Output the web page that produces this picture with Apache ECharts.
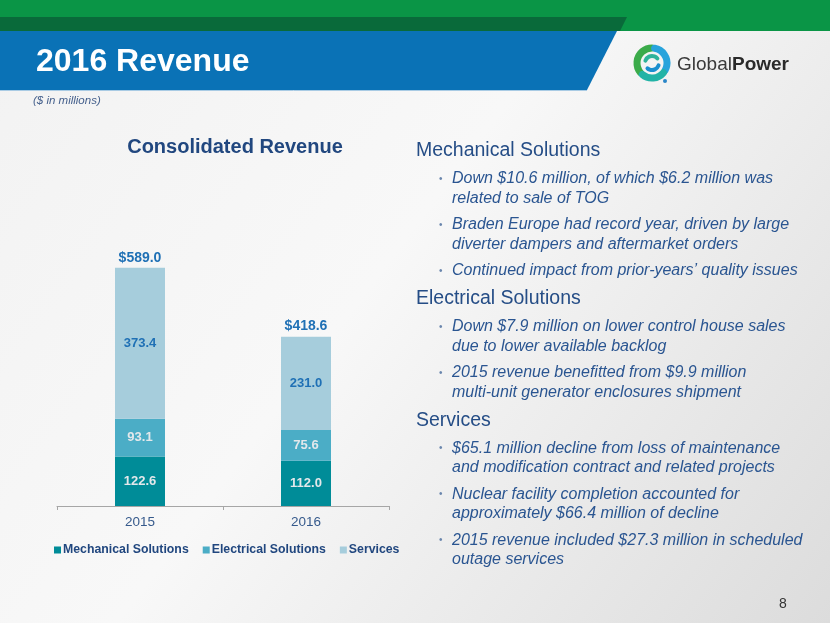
<!DOCTYPE html>
<html>
<head>
<meta charset="utf-8">
<script src="https://cdn.jsdelivr.net/npm/echarts@6/dist/echarts.min.js"></script>
<style>
  html, body { margin: 0; padding: 0; }
  #chart { width: 830px; height: 623px; }
</style>
</head>
<body>
<div id="chart"></div>
<script>
const categories = ['2015', '2016']
const mechanical = [122.6, 112.0]
const electrical = [93.1, 75.6]
const services = [373.4, 231.0]
const totals = [589.0, 418.6]
const seriesNames = ['Mechanical Solutions', 'Electrical Solutions', 'Services']

const notes = [
  { head: 'Mechanical Solutions', bullets: [
    ['Down $10.6 million, of which $6.2 million was', 'related to sale of TOG'],
    ['Braden Europe had record year, driven by large', 'diverter dampers and aftermarket orders'],
    ['Continued impact from prior-years\u2019 quality issues']
  ] },
  { head: 'Electrical Solutions', bullets: [
    ['Down $7.9 million on lower control house sales', 'due to lower available backlog'],
    ['2015 revenue benefitted from $9.9 million', 'multi-unit generator enclosures shipment']
  ] },
  { head: 'Services', bullets: [
    ['$65.1 million decline from loss of maintenance', 'and modification contract and related projects'],
    ['Nuclear facility completion accounted for', 'approximately $66.4 million of decline'],
    ['2015 revenue included $27.3 million in scheduled', 'outage services']
  ] }
]

const FONT = 'Liberation Sans, Arial, sans-serif'

function txt(text, x, y, font, fill, align) {
  return {
    type: 'text',
    silent: true,
    style: {
      text: text, x: x, y: y, font: font, fill: fill,
      textAlign: align || 'left', textVerticalAlign: 'middle'
    }
  }
}

// right-hand notes, laid out line by line
const noteEls = []
let y = 151
notes.forEach((sec, si) => {
  noteEls.push(txt(sec.head, 416, y, '19.5px ' + FONT, '#254d86'))
  y += 28
  sec.bullets.forEach((lines, bi) => {
    noteEls.push(txt('\u2022', 439, y, '10px ' + FONT, '#6a86ad'))
    lines.forEach((line, li) => {
      noteEls.push(txt(line, 452, y, 'italic 16px ' + FONT, '#2a5591'))
      if (li < lines.length - 1) y += 19.5
    })
    if (bi < sec.bullets.length - 1) y += 26.5
  })
  y += 28
})

// logo swirl
function arc(r, a0, a1, color, w) {
  return {
    type: 'arc', silent: true,
    shape: { cx: 652, cy: 63, r: r, startAngle: a0 * Math.PI / 180, endAngle: a1 * Math.PI / 180 },
    style: { stroke: color, lineWidth: w, fill: null, lineCap: 'round' }
  }
}

const headerEls = [
  { type: 'rect', silent: true, shape: { x: 0, y: 0, width: 830, height: 31 }, style: { fill: '#0a9546' } },
  { type: 'polygon', silent: true, shape: { points: [[0, 17], [627, 17], [620, 31], [0, 31]] }, style: { fill: '#096a3a' } },
  { type: 'polygon', silent: true, shape: { points: [[0, 31], [617, 31], [587, 90], [0, 90]] }, style: { fill: '#0a72b6' } },
  { type: 'line', silent: true, shape: { x1: 0, y1: 90.5, x2: 587, y2: 90.5 }, style: { stroke: '#a9cbe4', lineWidth: 1 } },
  txt('2016 Revenue', 36, 62, 'bold 32px ' + FONT, '#ffffff'),
  txt('($ in millions)', 33, 101, 'italic 11.5px ' + FONT, '#46618d'),
  arc(15, 140, 270, '#3bab4a', 7),
  arc(15, 280, 390, '#27a3dc', 7),
  arc(15, 40, 130, '#22b3a6', 7),
  arc(7, 200, 320, '#2fb39a', 4),
  arc(7, 20, 130, '#1a8fcf', 4),
  { type: 'circle', silent: true, shape: { cx: 665, cy: 81, r: 2 }, style: { fill: '#2a86c8' } },
  txt('Global', 677, 65, '19px ' + FONT, '#3a3a3a'),
  txt('Power', 732, 65, 'bold 19px ' + FONT, '#2a2a2a'),
  txt('8', 783, 604, '14px ' + FONT, '#333333', 'center')
]

const chart = echarts.init(document.getElementById('chart'))

const labelStyle = (color) => ({
  show: true,
  color: color,
  fontSize: 13,
  fontWeight: 'bold',
  fontFamily: FONT,
  formatter: p => p.value.toFixed(1)
})

chart.setOption({
  backgroundColor: {
    type: 'linear', x: 0, y: 0, x2: 1, y2: 1,
    colorStops: [
      { offset: 0, color: '#f2f2f2' },
      { offset: 0.45, color: '#f8f8f8' },
      { offset: 1, color: '#dcdcdc' }
    ]
  },
  animation: false,
  title: {
    text: 'Consolidated Revenue',
    left: 230, top: 132, textAlign: 'center',
    textStyle: { color: '#21477f', fontSize: 20, fontWeight: 'bold', fontFamily: FONT }
  },
  legend: {
    data: seriesNames,
    left: 49, top: 539,
    itemWidth: 7, itemHeight: 7, itemGap: 14,
    icon: 'rect',
    textStyle: { color: '#21477f', fontSize: 12.3, fontWeight: 'bold', fontFamily: FONT, padding: [0, 0, 0, -3] }
  },
  grid: { left: 57, right: 441, top: 243, bottom: 117 },
  xAxis: {
    type: 'category',
    data: categories,
    axisLine: { lineStyle: { color: '#a6a6a6' } },
    axisTick: { show: true, length: 4, lineStyle: { color: '#a6a6a6' } },
    axisLabel: { color: '#365a8c', fontSize: 13.5, fontFamily: FONT, margin: 9 }
  },
  yAxis: { type: 'value', min: 0, max: 650, show: false },
  series: [
    { name: seriesNames[0], type: 'bar', stack: 'rev', data: mechanical, barWidth: 50,
      itemStyle: { color: '#008c98' }, label: labelStyle('#e3e8eb') },
    { name: seriesNames[1], type: 'bar', stack: 'rev', data: electrical, barWidth: 50,
      itemStyle: { color: '#4badc6' }, label: labelStyle('#e3e8eb') },
    { name: seriesNames[2], type: 'bar', stack: 'rev', data: services, barWidth: 50,
      itemStyle: { color: '#a6cddc' }, label: labelStyle('#1f70b5') },
    { name: 'Total', type: 'bar', stack: 'rev', data: totals.map(() => 0), barWidth: 50,
      itemStyle: { color: 'transparent' },
      label: { show: true, position: 'top', distance: 3, color: '#1f70b5', fontSize: 14,
        fontWeight: 'bold', fontFamily: FONT,
        formatter: p => '$' + totals[p.dataIndex].toFixed(1) } }
  ],
  graphic: headerEls.concat(noteEls)
})
</script>
</body>
</html>
